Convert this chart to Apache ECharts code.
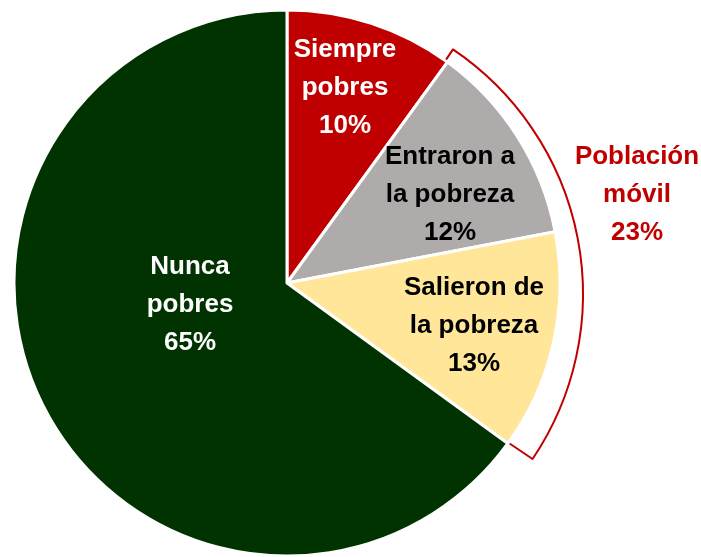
<!DOCTYPE html>
<html>
<head>
<meta charset="utf-8">
<script src="https://cdn.jsdelivr.net/npm/echarts@6/dist/echarts.min.js"></script>
<style>
html,body{margin:0;padding:0;background:#fff;}
#chart{width:701px;height:557px;}
</style>
</head>
<body>
<div id="chart"></div>
<script>
// ---- data ----
const categories = ['Siempre\npobres', 'Entraron a\nla pobreza', 'Salieron de\nla pobreza', 'Nunca\npobres'];
const values = [10, 12, 13, 65];
const movilName = 'Población\nmóvil';
const movilValue = 23;
const movilMembers = [1, 2]; // indices of slices grouped by the bracket

// ---- styles / layout ----
const colors = ['#C00000', '#AFABAB', '#FFE699', '#003300'];
const textColors = ['#FFFFFF', '#000000', '#000000', '#FFFFFF'];
const labelPos = [[345, 88], [450, 195], [474, 326], [190, 305]];
const movilPos = [637, 195];
const FONT = 'Liberation Sans';

const chart = echarts.init(document.getElementById('chart'), null, {renderer: 'canvas'});

const total = values.reduce((a, b) => a + b, 0);
const bracketSpan = movilMembers.reduce((a, i) => a + values[i], 0);

const mainData = categories.map((c, i) => ({
  name: c,
  value: values[i],
  itemStyle: {color: colors[i]},
  label: {color: textColors[i]}
}));

const option = {
  animation: false,
  backgroundColor: '#ffffff',
  series: [
    {
      type: 'pie',
      z: 1,
      silent: true,
      center: [288, 294],
      radius: [0, 295],
      startAngle: 56,
      clockwise: true,
      avoidLabelOverlap: false,
      labelLine: {show: false},
      data: [
        {
          name: movilName,
          value: bracketSpan,
          itemStyle: {color: '#FFFFFF', borderColor: '#C00000', borderWidth: 2},
          label: {
            show: true,
            position: 'inside',
            formatter: () => movilName + '\n' + movilValue + '%',
            color: '#C00000',
            fontFamily: FONT,
            fontWeight: 'bold',
            fontSize: 26,
            lineHeight: 38,
            align: 'center'
          }
        },
        {
          name: 'rest',
          value: total - bracketSpan,
          itemStyle: {color: 'rgba(0,0,0,0)', borderWidth: 0},
          label: {show: false}
        }
      ],
      labelLayout: function (p) {
        if (p.dataIndex === 0) {
          return {x: movilPos[0], y: movilPos[1], align: 'center', verticalAlign: 'middle'};
        }
      }
    },
    {
      type: 'pie',
      z: 2,
      silent: true,
      center: [287, 283],
      radius: [0, 273],
      startAngle: 90,
      clockwise: true,
      avoidLabelOverlap: false,
      itemStyle: {borderColor: '#FFFFFF', borderWidth: 3},
      label: {
        show: true,
        position: 'inside',
        formatter: p => p.name + '\n' + p.value + '%',
        fontFamily: FONT,
        fontWeight: 'bold',
        fontSize: 26,
        lineHeight: 38,
        align: 'center'
      },
      labelLine: {show: false},
      data: mainData,
      labelLayout: function (p) {
        const pos = labelPos[p.dataIndex];
        return {x: pos[0], y: pos[1], align: 'center', verticalAlign: 'middle'};
      }
    }
  ]
};

chart.setOption(option);
</script>
</body>
</html>
